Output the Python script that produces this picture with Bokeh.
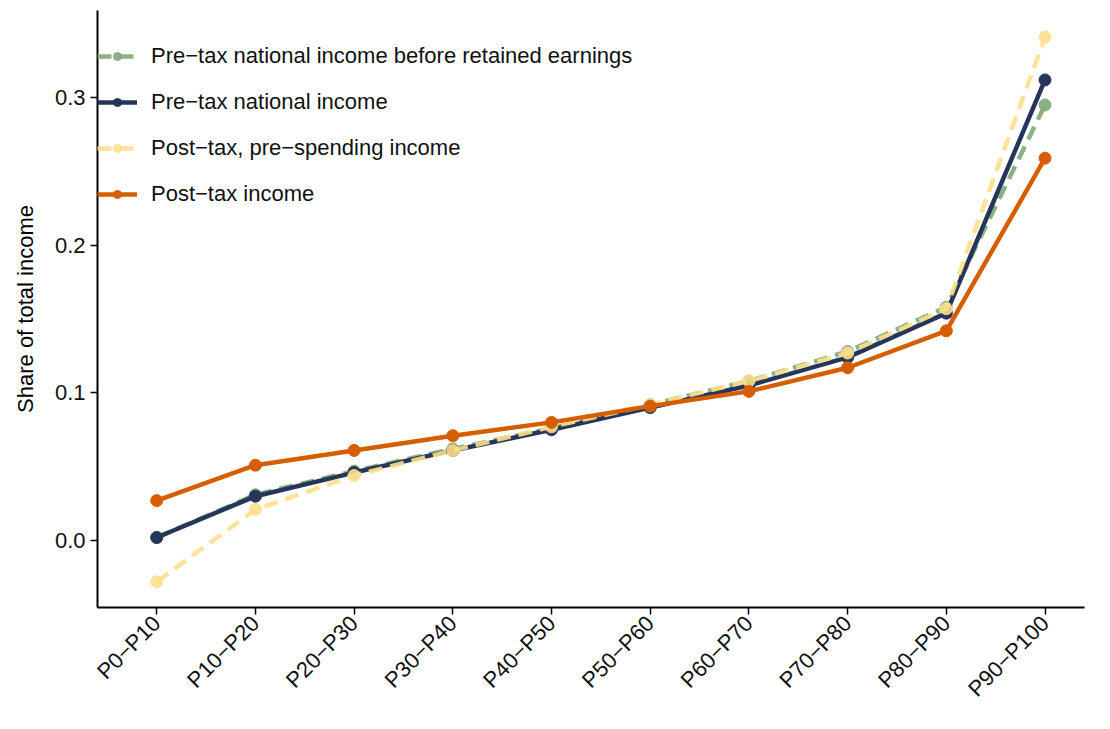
import math
from bokeh.plotting import figure
from bokeh.models import FixedTicker, Legend, LegendItem, Range1d
from bokeh.embed import file_html
from bokeh.resources import INLINE

groups = ["P0\u2212P10", "P10\u2212P20", "P20\u2212P30", "P30\u2212P40", "P40\u2212P50",
          "P50\u2212P60", "P60\u2212P70", "P70\u2212P80", "P80\u2212P90", "P90\u2212P100"]
pos = list(range(1, 11))

pre_tax_before_re = [0.002, 0.031, 0.047, 0.062, 0.076, 0.092, 0.108, 0.128, 0.158, 0.295]
pre_tax = [0.002, 0.030, 0.046, 0.061, 0.075, 0.090, 0.105, 0.124, 0.154, 0.312]
post_tax_pre_spend = [-0.028, 0.021, 0.044, 0.061, 0.077, 0.092, 0.108, 0.127, 0.157, 0.341]
post_tax = [0.027, 0.051, 0.061, 0.071, 0.080, 0.091, 0.101, 0.117, 0.142, 0.259]

series = [
    ("Pre\u2212tax national income before retained earnings", pre_tax_before_re, "#7fa878", "14 8", 0.9),
    ("Pre\u2212tax national income", pre_tax, "#253659", "solid", 1.0),
    ("Post\u2212tax, pre\u2212spending income", post_tax_pre_spend, "#fddf8c", "14 8", 0.9),
    ("Post\u2212tax income", post_tax, "#d55e00", "solid", 1.0),
]

p = figure(width=1094, height=713, output_backend="svg", toolbar_location=None,
           x_range=Range1d(0.4, 10.4), y_range=Range1d(-0.0454, 0.359))
p.min_border_left = 97
p.min_border_top = 10
p.min_border_right = 10
p.min_border_bottom = 100
p.outline_line_color = None
p.grid.grid_line_color = None
p.background_fill_color = "white"

items = []
for name, vals, clr, dash, a in series:
    r1 = p.line(pos, vals, line_color=clr, line_width=4.5, line_dash=dash, line_alpha=a)
    r2 = p.scatter(pos, vals, size=12, color=clr, alpha=a)
    items.append(LegendItem(label=name, renderers=[r1, r2]))

legend = Legend(items=items, location=(0, 400), border_line_color=None,
                background_fill_alpha=0, label_text_font="Liberation Sans",
                label_text_font_size="22px", glyph_width=40, spacing=20,
                margin=10, padding=8, label_text_color="#111111", label_standoff=14)
p.add_layout(legend)

p.xaxis.ticker = FixedTicker(ticks=pos)
p.xaxis.major_label_overrides = {i: g for i, g in zip(pos, groups)}
p.xaxis.major_label_orientation = math.pi / 4
p.yaxis.ticker = FixedTicker(ticks=[0.0, 0.1, 0.2, 0.3])
p.yaxis.major_label_overrides = {0.0: "0.0", 0.1: "0.1", 0.2: "0.2", 0.3: "0.3"}
p.yaxis.axis_label = "Share of total income"
for ax in (p.xaxis, p.yaxis):
    ax.axis_line_width = 2
    ax.axis_line_color = "black"
    ax.major_tick_line_color = "black"
    ax.major_tick_line_width = 1.5
    ax.major_tick_out = 7
    ax.major_tick_in = 0
    ax.minor_tick_line_color = None
    ax.major_label_text_font = "Liberation Sans"
    ax.major_label_text_font_size = "22px"
    ax.major_label_text_color = "#111111"
    ax.axis_label_text_font = "Liberation Sans"
    ax.axis_label_text_font_size = "22px"
    ax.axis_label_text_color = "black"
    ax.axis_label_text_font_style = "normal"
    ax.axis_label_standoff = 14

open("out.html", "w").write(file_html(p, INLINE))
